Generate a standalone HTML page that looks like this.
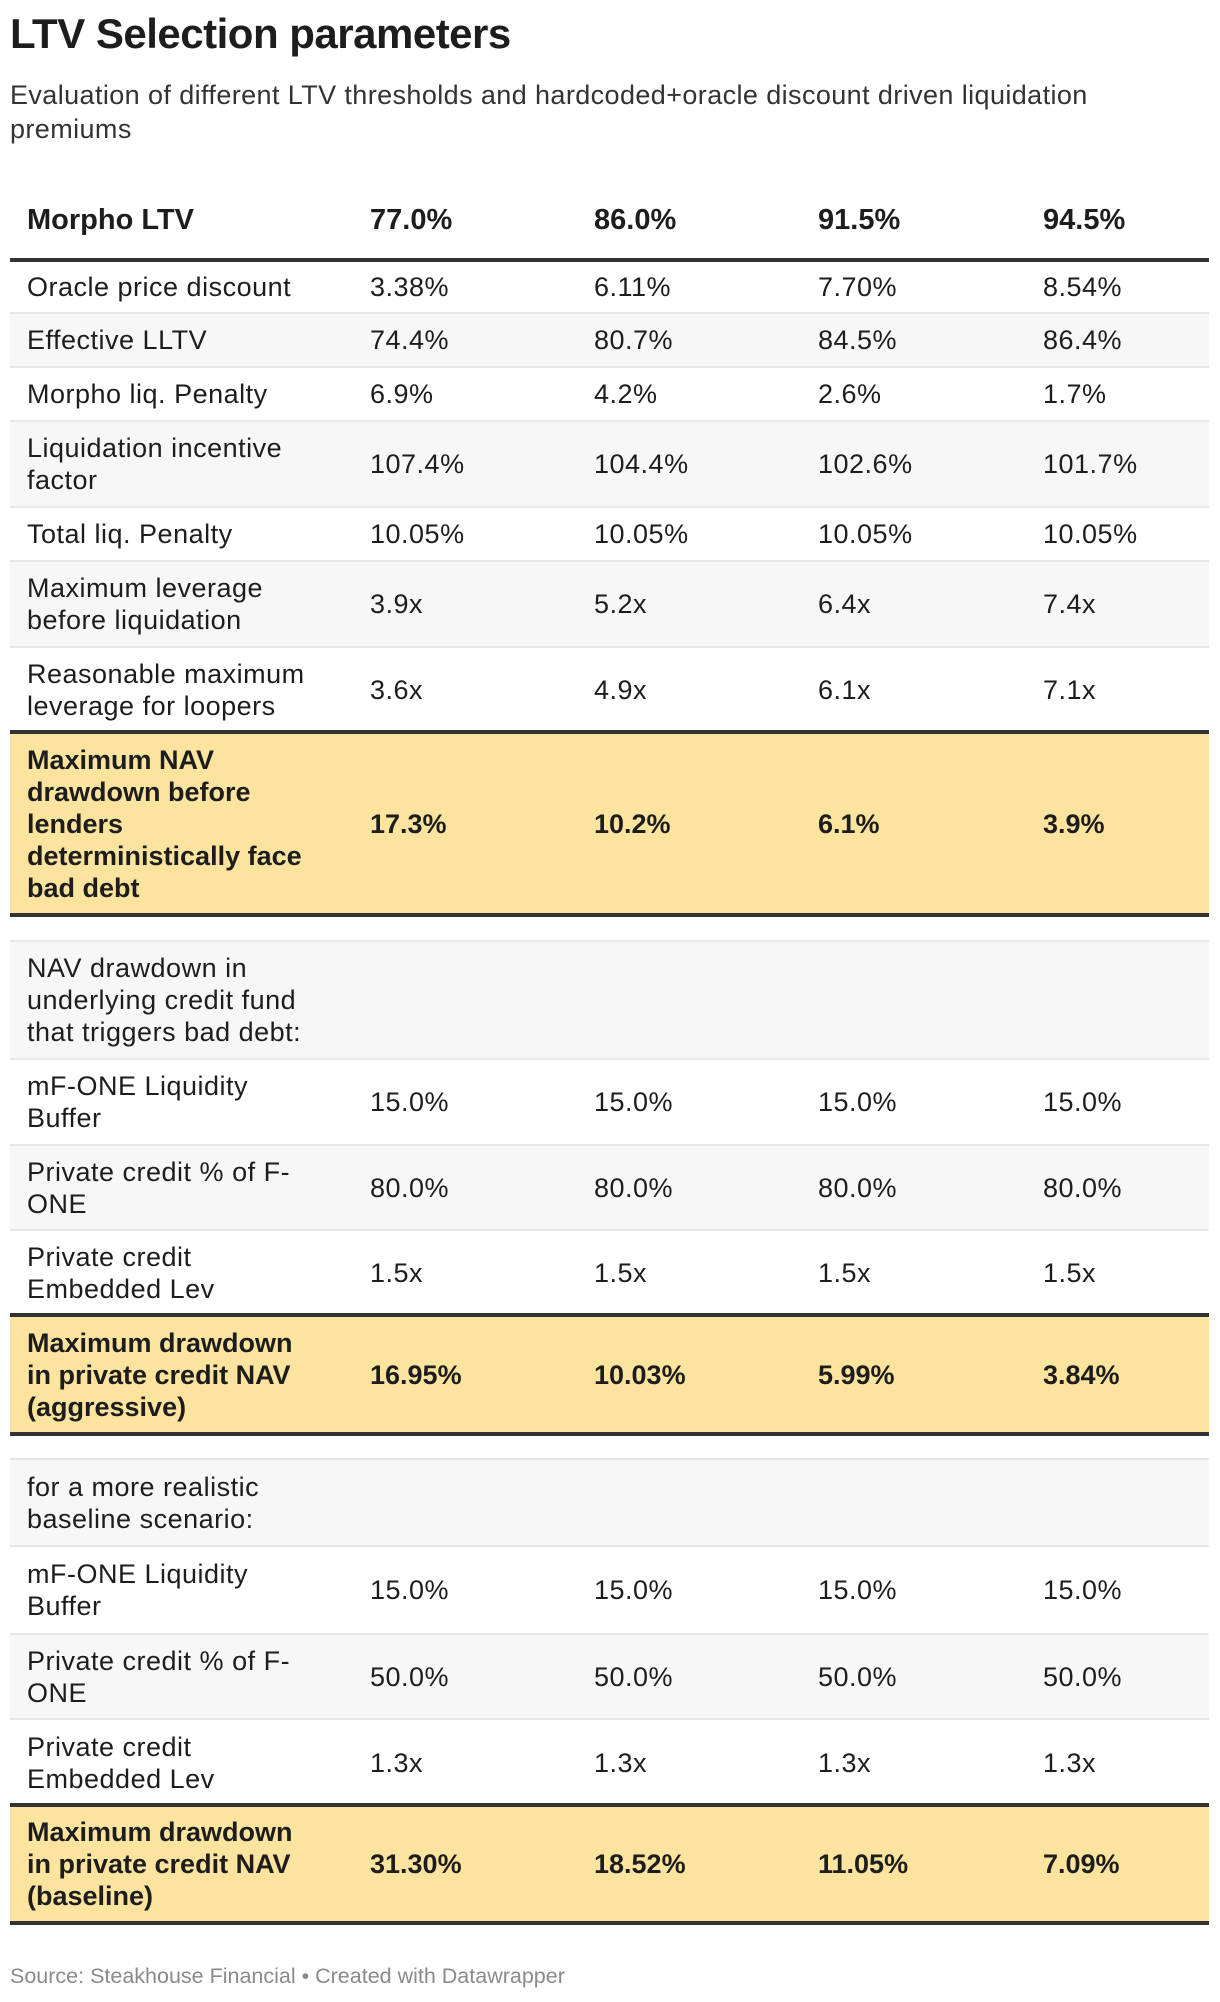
<!DOCTYPE html>
<html><head><meta charset="utf-8">
<style>
*{margin:0;padding:0;box-sizing:border-box}
body{width:1220px;height:2002px;background:#fff;position:relative;font-family:"Liberation Sans",Arial,sans-serif;color:#1d1d1d;overflow:hidden}
#title{position:absolute;left:10px;top:10px;font-size:42px;font-weight:bold;letter-spacing:-0.5px;white-space:nowrap}
#sub{position:absolute;left:10px;top:78px;font-size:27px;line-height:34px;color:#333;white-space:nowrap;letter-spacing:0.4px}
.row{position:absolute;left:10px;width:1199px;border-top:2px solid #e6e6e6}
.row.g{background:#f7f7f7}
.row.y{background:#fde49e;border-top:4px solid #333;border-bottom:4px solid #333}
.c{position:absolute;top:0;bottom:0;display:flex;align-items:center;font-size:27px;line-height:32px;white-space:nowrap;letter-spacing:0.5px}
.l{left:17px}.c1{left:360px}.c2{left:584px}.c3{left:808px}.c4{left:1033px}
.y .c,.h .c{font-weight:bold;letter-spacing:0}
.h{border-top:none;border-bottom:4px solid #333}
#src{position:absolute;left:10px;top:1964px;font-size:21.5px;color:#8a8a8a;white-space:nowrap}
</style></head><body>
<div id="title">LTV Selection parameters</div>
<div id="sub">Evaluation of different LTV thresholds and hardcoded+oracle discount driven liquidation<br>premiums</div>

<div class="row h" style="top:182px;height:80px">
<div class="c l" style="font-size:29px">Morpho LTV</div><div class="c c1" style="font-size:29px">77.0%</div><div class="c c2" style="font-size:29px">86.0%</div><div class="c c3" style="font-size:29px">91.5%</div><div class="c c4" style="font-size:29px">94.5%</div></div>

<div class="row" style="top:262px;height:50px;border-top:none"><div class="c l">Oracle price discount</div><div class="c c1">3.38%</div><div class="c c2">6.11%</div><div class="c c3">7.70%</div><div class="c c4">8.54%</div></div>
<div class="row g" style="top:312px;height:54px"><div class="c l">Effective LLTV</div><div class="c c1">74.4%</div><div class="c c2">80.7%</div><div class="c c3">84.5%</div><div class="c c4">86.4%</div></div>
<div class="row" style="top:366px;height:54px"><div class="c l">Morpho liq. Penalty</div><div class="c c1">6.9%</div><div class="c c2">4.2%</div><div class="c c3">2.6%</div><div class="c c4">1.7%</div></div>
<div class="row g" style="top:420px;height:86px"><div class="c l">Liquidation incentive<br>factor</div><div class="c c1">107.4%</div><div class="c c2">104.4%</div><div class="c c3">102.6%</div><div class="c c4">101.7%</div></div>
<div class="row" style="top:506px;height:54px"><div class="c l">Total liq. Penalty</div><div class="c c1">10.05%</div><div class="c c2">10.05%</div><div class="c c3">10.05%</div><div class="c c4">10.05%</div></div>
<div class="row g" style="top:560px;height:86px"><div class="c l">Maximum leverage<br>before liquidation</div><div class="c c1">3.9x</div><div class="c c2">5.2x</div><div class="c c3">6.4x</div><div class="c c4">7.4x</div></div>
<div class="row" style="top:646px;height:86px"><div class="c l">Reasonable maximum<br>leverage for loopers</div><div class="c c1">3.6x</div><div class="c c2">4.9x</div><div class="c c3">6.1x</div><div class="c c4">7.1x</div></div>
<div class="row y" style="top:730px;height:187px"><div class="c l">Maximum NAV<br>drawdown before<br>lenders<br>deterministically face<br>bad debt</div><div class="c c1">17.3%</div><div class="c c2">10.2%</div><div class="c c3">6.1%</div><div class="c c4">3.9%</div></div>

<div class="row g" style="top:940px;height:118px"><div class="c l">NAV drawdown in<br>underlying credit fund<br>that triggers bad debt:</div></div>
<div class="row" style="top:1058px;height:86px"><div class="c l">mF-ONE Liquidity<br>Buffer</div><div class="c c1">15.0%</div><div class="c c2">15.0%</div><div class="c c3">15.0%</div><div class="c c4">15.0%</div></div>
<div class="row g" style="top:1144px;height:85px"><div class="c l">Private credit % of F-<br>ONE</div><div class="c c1">80.0%</div><div class="c c2">80.0%</div><div class="c c3">80.0%</div><div class="c c4">80.0%</div></div>
<div class="row" style="top:1229px;height:86px"><div class="c l">Private credit<br>Embedded Lev</div><div class="c c1">1.5x</div><div class="c c2">1.5x</div><div class="c c3">1.5x</div><div class="c c4">1.5x</div></div>
<div class="row y" style="top:1313px;height:123px"><div class="c l">Maximum drawdown<br>in private credit NAV<br>(aggressive)</div><div class="c c1">16.95%</div><div class="c c2">10.03%</div><div class="c c3">5.99%</div><div class="c c4">3.84%</div></div>

<div class="row g" style="top:1458px;height:87px"><div class="c l">for a more realistic<br>baseline scenario:</div></div>
<div class="row" style="top:1545px;height:88px"><div class="c l">mF-ONE Liquidity<br>Buffer</div><div class="c c1">15.0%</div><div class="c c2">15.0%</div><div class="c c3">15.0%</div><div class="c c4">15.0%</div></div>
<div class="row g" style="top:1633px;height:85px"><div class="c l">Private credit % of F-<br>ONE</div><div class="c c1">50.0%</div><div class="c c2">50.0%</div><div class="c c3">50.0%</div><div class="c c4">50.0%</div></div>
<div class="row" style="top:1718px;height:87px"><div class="c l">Private credit<br>Embedded Lev</div><div class="c c1">1.3x</div><div class="c c2">1.3x</div><div class="c c3">1.3x</div><div class="c c4">1.3x</div></div>
<div class="row y" style="top:1803px;height:122px"><div class="c l">Maximum drawdown<br>in private credit NAV<br>(baseline)</div><div class="c c1">31.30%</div><div class="c c2">18.52%</div><div class="c c3">11.05%</div><div class="c c4">7.09%</div></div>

<div id="src">Source: Steakhouse Financial • Created with Datawrapper</div>
</body></html>
